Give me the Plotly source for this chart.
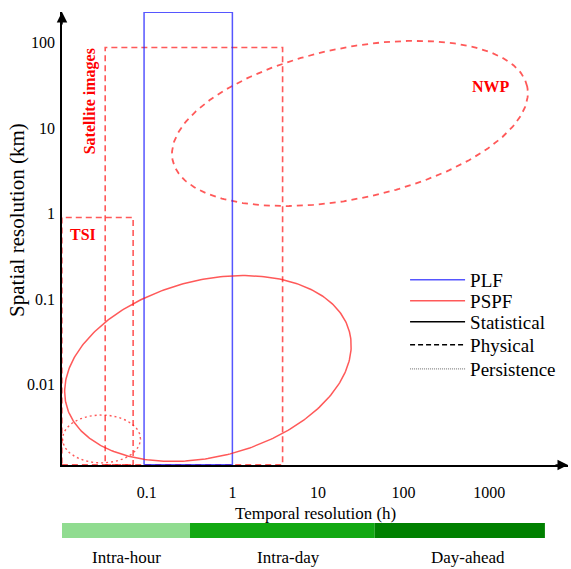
import numpy as np
import plotly.graph_objects as go

# ---------------- data ----------------
x_ticks = [0.1, 1, 10, 100, 1000]
x_tick_text = ["0.1", "1", "10", "100", "1000"]
y_ticks = [0.01, 0.1, 1, 10, 100]
y_tick_text = ["0.01", "0.1", "1", "10", "100"]

# rectangles: [x0 (h), x1 (h), y0 (km), y1 (km)]
plf_rect = [0.093, 1.0, 0.00114, 227]
sat_rect = [0.0327, 3.86, 0.00114, 88]
tsi_rect = [0.0102, 0.0693, 0.00114, 0.9]

# ellipses: [centre h, centre km, semi-axis 1 (decades), semi-axis 2 (decades), tilt deg]
pspf_ellipse = [0.518, 0.0153, 1.708, 1.033, 14.6]
nwp_ellipse = [23.6, 11.35, 2.115, 0.884, 11.8]
pers_ellipse = [0.0296, 0.00229, 0.456, 0.281, 0.0]

# labels inside the chart: text, x (h), y (km)
region_labels = ["Satellite images", "TSI", "NWP"]
region_label_x = [0.0216, 0.0181, 1042]
region_label_y = [20.5, 0.567, 31.1]

# forecast horizon bands
band_names = ["Intra-hour", "Intra-day", "Day-ahead"]
band_edges = [0.0102, 0.32, 46, 4470]
band_colors = ["#90dc90", "#12a812", "#008000"]
band_label_x = [0.058, 4.57, 571]

legend_names = ["PLF", "PSPF", "Statistical", "Physical", "Persistence"]

RED = "rgba(255,25,25,0.72)"
BLUE = "rgba(30,30,255,0.75)"
FONT = "Liberation Serif"


def rect_xy(r):
    x0, x1, y0, y1 = r
    return [x0, x1, x1, x0, x0], [y0, y0, y1, y1, y0]


def ellipse_xy(e, n=361):
    cx, cy, a, b, ang = e
    t = np.linspace(0, 2 * np.pi, n)
    th = np.deg2rad(ang)
    lx = np.log10(cx) + a * np.cos(t) * np.cos(th) - b * np.sin(t) * np.sin(th)
    ly = np.log10(cy) + a * np.cos(t) * np.sin(th) + b * np.sin(t) * np.cos(th)
    return 10 ** lx, 10 ** ly


fig = go.Figure()

# Satellite images (physical, dashed red)
x, y = rect_xy(sat_rect)
fig.add_trace(go.Scatter(x=x, y=y, mode="lines", showlegend=False,
                         line=dict(color=RED, width=1.6, dash="6px,4px")))
# TSI
x, y = rect_xy(tsi_rect)
fig.add_trace(go.Scatter(x=x, y=y, mode="lines", showlegend=False,
                         line=dict(color=RED, width=1.6, dash="6px,4px")))
# NWP
x, y = ellipse_xy(nwp_ellipse)
fig.add_trace(go.Scatter(x=x, y=y, mode="lines", showlegend=False,
                         line=dict(color=RED, width=1.8, dash="6px,5px")))
# Persistence
x, y = ellipse_xy(pers_ellipse)
fig.add_trace(go.Scatter(x=x, y=y, mode="lines", showlegend=False,
                         line=dict(color=RED, width=1.4, dash="2px,3px")))

legend_ids = ["legend", "legend2", "legend3", "legend4", "legend5"]
# PLF rectangle
x, y = rect_xy(plf_rect)
fig.add_trace(go.Scatter(x=x, y=y, mode="lines", name=legend_names[0],
                         legend=legend_ids[0], line=dict(color=BLUE, width=1.5)))
# PSPF statistical ellipse
x, y = ellipse_xy(pspf_ellipse)
fig.add_trace(go.Scatter(x=x, y=y, mode="lines", name=legend_names[1],
                         legend=legend_ids[1], line=dict(color=RED, width=1.5)))
# legend-only keys
fig.add_trace(go.Scatter(x=[None], y=[None], mode="lines", name=legend_names[2],
                         legend=legend_ids[2], line=dict(color="black", width=1.5)))
fig.add_trace(go.Scatter(x=[None], y=[None], mode="lines", name=legend_names[3],
                         legend=legend_ids[3],
                         line=dict(color="black", width=1.5, dash="5px,3px")))
fig.add_trace(go.Scatter(x=[None], y=[None], mode="lines", name=legend_names[4],
                         legend=legend_ids[4],
                         line=dict(color="#888888", width=1.2, dash="1px,1px")))

annotations = []
for txt, lx, ly in zip(region_labels, region_label_x, region_label_y):
    annotations.append(dict(
        x=np.log10(lx), y=np.log10(ly), xref="x", yref="y", text=txt,
        showarrow=False, xanchor="center", yanchor="middle",
        textangle=-90 if txt.startswith("Satellite") else 0,
        font=dict(family=FONT, size=16, color="red", weight="bold")))

# axis arrows
annotations.append(dict(xref="paper", yref="paper", x=1, y=0, ax=-14, ay=0,
                        showarrow=True, arrowhead=2, arrowsize=1.4, arrowwidth=1.5,
                        arrowcolor="black", text=""))
annotations.append(dict(xref="paper", yref="paper", x=0, y=1, ax=0, ay=14,
                        showarrow=True, arrowhead=2, arrowsize=1.4, arrowwidth=1.5,
                        arrowcolor="black", text=""))

# axis titles
annotations.append(dict(xref="paper", yref="paper", x=0.5, y=-0.108,
                        text="Temporal resolution (h)", showarrow=False,
                        xanchor="center", yanchor="middle",
                        font=dict(family=FONT, size=17, color="black")))
annotations.append(dict(xref="paper", yref="paper", x=-0.089, y=0.541,
                        text="Spatial resolution (km)", showarrow=False,
                        textangle=-90, xanchor="center", yanchor="middle",
                        font=dict(family=FONT, size=21, color="black")))

# band labels
for name, bx in zip(band_names, band_label_x):
    annotations.append(dict(xref="x", yref="paper", x=np.log10(bx), y=-0.2296,
                            text=name, showarrow=False, xanchor="center",
                            yanchor="bottom",
                            font=dict(family=FONT, size=17, color="black")))

shapes = []
for i, c in enumerate(band_colors):
    shapes.append(dict(type="rect", xref="x", yref="paper",
                       x0=band_edges[i], x1=band_edges[i + 1],
                       y0=-0.161, y1=-0.128, fillcolor=c, line=dict(width=0),
                       layer="above"))

legend_tops = [0.4503, 0.404, 0.3576, 0.3068, 0.2539]
legend_style = dict(x=0.678, xanchor="left", yanchor="top",
                    bgcolor="rgba(0,0,0,0)", itemwidth=55,
                    font=dict(family=FONT, size=19, color="black"))
legend_layout = {}
for lid, top in zip(legend_ids, legend_tops):
    legend_layout[lid] = dict(legend_style, y=top)

fig.update_layout(
    width=571, height=569,
    margin=dict(l=62, r=3, t=12, b=104, autoexpand=False),
    paper_bgcolor="white", plot_bgcolor="white",
    font=dict(family=FONT, size=16, color="black"),
    xaxis=dict(type="log", range=[-1.99, 3.92], tickvals=x_ticks,
               ticktext=x_tick_text, showgrid=False, zeroline=False,
               showline=True, linecolor="black", linewidth=1.5,
               ticks="", ticklabelstandoff=12, layer="below traces",
               automargin=False, tickfont=dict(family=FONT, size=16)),
    yaxis=dict(type="log", range=[-2.945, 2.36], tickvals=y_ticks,
               ticktext=y_tick_text, showgrid=False, zeroline=False,
               showline=True, linecolor="black", linewidth=1.5,
               ticks="", ticklabelstandoff=2, layer="below traces",
               automargin=False, tickfont=dict(family=FONT, size=16)),
    annotations=annotations,
    shapes=shapes,
    **legend_layout,
)

fig.write_html("out.html", config={"displayModeBar": False},
               post_script="document.body.style.margin='0px';"
                           "document.body.style.overflow='hidden';")
